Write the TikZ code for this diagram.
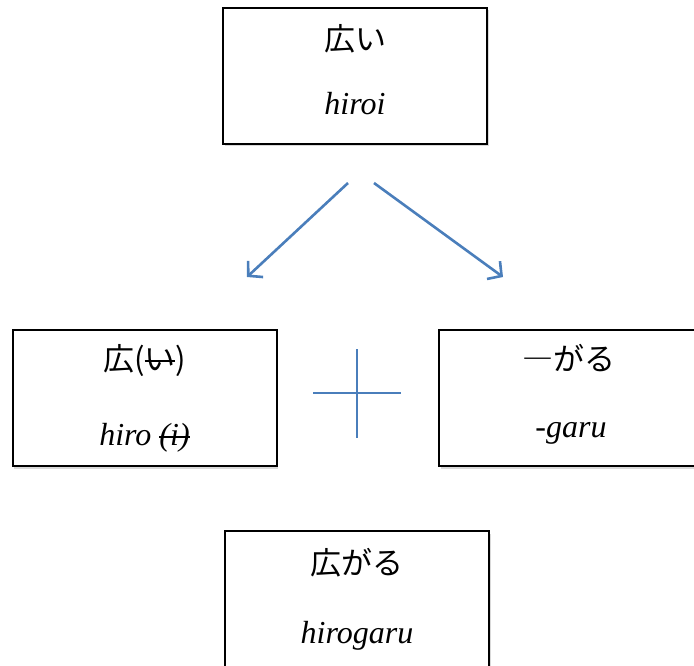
\documentclass[tikz,border=0pt]{standalone}
\usepackage{fontspec}
\setmainfont{Liberation Serif}
\newfontfamily\jpfont{Noto Sans CJK JP}
\usetikzlibrary{arrows.meta,shadows}
\definecolor{wordblue}{RGB}{74,126,187}
\newcommand\strikeit[2][.22em]{\setbox0\hbox{#2}\rlap{\rule[#1]{\wd0}{1.8pt}}\box0}

\tikzset{
  wordbox/.style={draw=black,line width=2pt,fill=white,minimum width=264pt,minimum height=136pt,
    drop shadow={shadow xshift=1.5pt,shadow yshift=-2.5pt,opacity=.25,fill=black!60}},
  kana/.style={font=\jpfont\fontsize{31}{36}\selectfont},
  roman/.style={font=\itshape\fontsize{32}{38}\selectfont,anchor=base},
  derive/.style={wordblue,line width=2.6pt,-{Straight Barb[length=10pt,width=22pt,line width=2.6pt]}}
}

\begin{document}
\begin{tikzpicture}[x=1pt,y=-1pt]
        \useasboundingbox (0,0) rectangle (694,666);
        % the four word boxes
        \node[wordbox] (hiroi) at (355,76) {};
        \node[wordbox] (stem) at (144.5,398) {};
        \node[wordbox] (suffix) at (571,398) {};
        \node[wordbox] (hirogaru) at (357,599) {};
        % texts
        \node[kana] (hiroiJp) at (355,39) {広い};
        \node[roman] (hiroiRo) at (355,115) {hiroi};
        \node[kana] (stemJp) at (144.5,361) {広(\strikeit[.3em]{い})};
        \node[roman] (stemRo) at (144.5,445) {hiro \strikeit{(i)}};
        \node[kana] (suffixJp) at (569,358) {―がる};
        \node[roman] (suffixRo) at (571,437) {-garu};
        \node[kana] (hirogaruJp) at (357,563) {広がる};
        \node[roman] (hirogaruRo) at (357,643) {hirogaru};
        % split arrows
        \coordinate (splitL) at (348,183);
        \coordinate (splitR) at (374,183);
        \coordinate (toStem) at (247,277);
        \coordinate (toSuffix) at (503,277);
        \draw[derive] (splitL) -- (toStem);
        \draw[derive] (splitR) -- (toSuffix);
        % plus sign
        \coordinate (plusW) at (313,393);
        \coordinate (plusE) at (401,393);
        \coordinate (plusN) at (357,349);
        \coordinate (plusS) at (357,438);
        \draw[wordblue,line width=2pt] (plusW) -- (plusE) (plusN) -- (plusS);
      \end{tikzpicture}
\end{document}
